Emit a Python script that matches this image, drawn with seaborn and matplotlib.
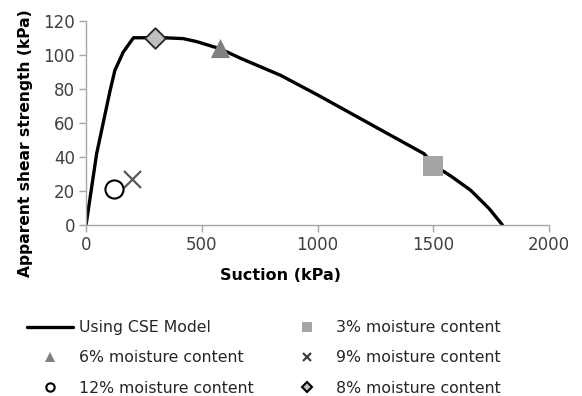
import matplotlib
matplotlib.use("Agg")
import matplotlib.pyplot as plt
from matplotlib.lines import Line2D
import seaborn as sns
import pandas as pd

# ---- data ----
curve_suction = [0, 46, 104, 125, 161, 205, 335, 420, 479, 580, 667, 840, 1000,
                 1273, 1460, 1506, 1580, 1662, 1740, 1800]
curve_strength = [0, 42, 79, 91, 101.6, 110, 110, 109.5, 107.7, 103.5, 98, 88, 76.5,
                  56, 42, 35, 28.5, 20.5, 10, 0]

point_labels = ["3% moisture content", "6% moisture content", "9% moisture content",
                "12% moisture content", "8% moisture content"]
point_suction = [1500, 580, 200, 120, 300]
point_strength = [35, 104, 27, 21, 110]

x_ticks = [0, 500, 1000, 1500, 2000]
y_ticks = [0, 20, 40, 60, 80, 100, 120]

# ---- styles ----
styles = {
    "3% moisture content": dict(marker="s", s=200, color="#a5a5a5", edgecolor="#a5a5a5", linewidth=0),
    "6% moisture content": dict(marker="^", s=190, color="#7f7f7f", edgecolor="#7f7f7f", linewidth=0),
    "9% moisture content": dict(marker="x", s=150, color="#595959", linewidth=1.6),
    "12% moisture content": dict(marker="o", s=170, color="white", edgecolor="black", linewidth=1.5),
    "8% moisture content": dict(marker="D", s=110, color="#bfbfbf", edgecolor="#262626", linewidth=1.3),
}

sns.set_theme(style="white")
plt.rcParams["font.family"] = ["DejaVu Sans"]

fig = plt.figure(figsize=(5.82, 3.96), dpi=100)
ax = fig.add_axes([86 / 582, 1 - 225.3 / 396, (549 - 86) / 582, (225.3 - 20.7) / 396])

curve = pd.DataFrame({"Suction": curve_suction, "Strength": curve_strength})
sns.lineplot(data=curve, x="Suction", y="Strength", sort=False, color="black",
             linewidth=2.4, ax=ax, zorder=2)

for lab, xs, ys in zip(point_labels, point_suction, point_strength):
    d = pd.DataFrame({"Suction": [xs], "Strength": [ys]})
    sns.scatterplot(data=d, x="Suction", y="Strength", ax=ax, zorder=3, **styles[lab])

ax.set_xlim(0, 2000)
ax.set_ylim(0, 120)
ax.set_xticks(x_ticks)
ax.set_yticks(y_ticks)
for s in ["top", "right"]:
    ax.spines[s].set_visible(False)
for s in ["left", "bottom"]:
    ax.spines[s].set_color("#a6a6a6")
    ax.spines[s].set_linewidth(1.0)
ax.tick_params(axis="both", which="major", direction="out", length=5, width=1.0,
               color="#a6a6a6", labelsize=12, labelcolor="#404040", pad=3, left=True, bottom=True)

ax.set_xlabel("Suction (kPa)", fontsize=11.5, fontweight="bold", color="black")
ax.set_ylabel("Apparent shear strength (kPa)", fontsize=11.2, fontweight="bold", color="black")
ax.xaxis.set_label_coords((281 - 86) / 463, -(268 - 225.3) / 204.6)
ax.yaxis.set_label_coords(-(86 - 33) / 463, (225.3 - 143.5) / 204.6)

handles = [
    Line2D([], [], color="black", linewidth=2.4, label="Using CSE Model"),
    Line2D([], [], linestyle="none", marker="^", markersize=7, color="#7f7f7f",
           markeredgewidth=0, label="6% moisture content"),
    Line2D([], [], linestyle="none", marker="o", markersize=6, markerfacecolor="white",
           markeredgecolor="black", markeredgewidth=1.5, label="12% moisture content"),
    Line2D([], [], linestyle="none", marker="s", markersize=7, color="#a5a5a5",
           markeredgewidth=0, label="3% moisture content"),
    Line2D([], [], linestyle="none", marker="x", markersize=6, color="#404040",
           markeredgewidth=1.6, label="9% moisture content"),
    Line2D([], [], linestyle="none", marker="D", markersize=5, markerfacecolor="#bfbfbf",
           markeredgecolor="black", markeredgewidth=1.5, label="8% moisture content"),
]
fig.legend(handles=handles, loc="upper left", bbox_to_anchor=(27 / 582, 1 - 320 / 396),
           ncol=2, frameon=False, fontsize=11.3, handlelength=2.9, handletextpad=0.4,
           columnspacing=1.95, labelspacing=0.98, borderpad=0, borderaxespad=0,
           labelcolor="#262626")

fig.savefig("out.png", dpi=100)
